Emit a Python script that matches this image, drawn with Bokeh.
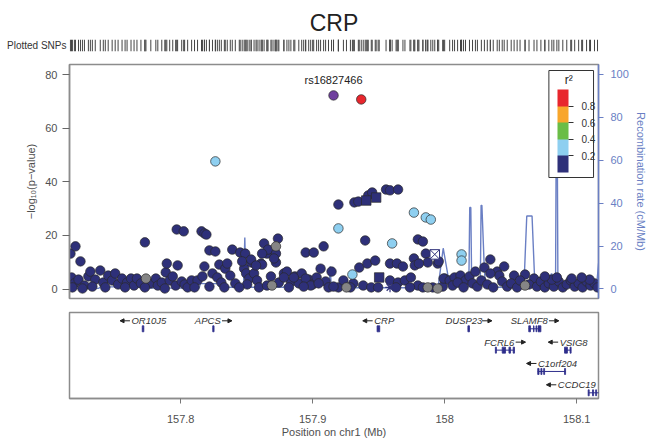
import math
from bokeh.plotting import figure
from bokeh.layouts import column
from bokeh.models import (Range1d, LinearAxis, FixedTicker, ColorBar, LinearColorMapper,
                          ColumnDataSource, Arrow, NormalHead, Label, BoxAnnotation)
from bokeh.core.properties import value
from bokeh.embed import file_html
from bokeh.resources import INLINE

# ---------------- data ----------------
title_text = "CRP"
index_name = "rs16827466"
index_pos = [157.9158]
index_logp = [72.2]

# r^2 < 0.2 (navy)
low_pos = [157.7165, 157.7203, 157.7241, 157.7173, 157.7195, 157.7226, 157.7271, 157.7301, 157.7316, 157.7353,
           157.7391, 157.7414, 157.7451, 157.7481, 157.7504, 157.7526, 157.7556, 157.7594, 157.7624, 157.7647,
           157.7669, 157.7699, 157.7729, 157.7774, 157.7812, 157.7827, 157.7857, 157.7887, 157.7895, 157.7917,
           157.7940, 157.7970, 157.7977, 157.7962, 157.8023, 157.8008, 157.7180, 157.7256, 157.7331, 157.7429,
           157.7579, 157.7729, 157.7880, 157.8030,
           157.8053, 157.8083, 157.8128, 157.8158, 157.8180, 157.8195, 157.8180, 157.8165, 157.8218, 157.8263,
           157.8293, 157.8241, 157.8278, 157.8308, 157.8338, 157.8353, 157.8376, 157.8391, 157.8414, 157.8451,
           157.8489, 157.8481, 157.8496, 157.8466, 157.8519, 157.8534, 157.8504, 157.8105, 157.8218, 157.8331,
           157.8444,
           157.8556, 157.8579, 157.8609, 157.8632, 157.8654, 157.8662, 157.8722, 157.8722, 157.8737, 157.8684,
           157.8744, 157.8782, 157.8805, 157.8835, 157.8865, 157.8895, 157.8917, 157.8947, 157.9008, 157.8970,
           157.9000, 157.9030, 157.9060, 157.9083, 157.9098, 157.8617, 157.8707, 157.8534, 157.8617, 157.8571,
           157.8782, 157.8857, 157.8947, 157.8985, 157.9045, 157.9195, 157.9120, 157.8594, 157.8654, 157.8820,
           157.8932, 157.9158,
           157.9195, 157.9316, 157.9346, 157.9421, 157.9451, 157.9556, 157.9586, 157.9647, 157.9398, 157.9797,
           157.9835, 157.9353, 157.9414, 157.9474, 157.9586, 157.9639, 157.9684, 157.9767, 157.9774, 157.9857,
           157.9872, 157.9947, 157.9805, 157.9586, 157.9647, 157.9699, 157.9744, 157.9797, 157.9910, 158.0000,
           157.9383, 157.9444, 157.9737, 157.9143, 157.9233, 157.9308, 157.9286, 157.9496, 157.9632, 157.9835,
           157.9985,
           157.9992, 157.9955, 158.0038, 158.0075, 158.0120, 158.0158, 158.0188, 158.0233, 158.0301, 158.0346,
           158.0398, 158.0451, 158.0414, 158.0346, 158.0526, 158.0609, 158.0677, 158.0060, 158.0098, 158.0143,
           158.0211, 158.0248, 158.0278, 158.0323, 158.0368, 158.0436, 158.0474, 158.0504, 158.0549, 158.0571,
           158.0639, 158.0699, 158.0729, 158.0759, 158.0789, 158.0827, 158.0865, 158.0895, 158.0925, 158.0955,
           158.0985, 158.1015, 158.1045, 158.1075, 158.1105, 158.1135, 158.1158, 158.0812, 158.0962, 158.1098,
           158.0759, 158.0850, 158.1038]
low_logp = [13.2, 15.9, 10.3, 4.3, 2.1, 3.5, 1.3, 4.7, 6.5, 3.5,
            6.9, 2.4, 5.0, 3.2, 5.8, 1.7, 3.9, 2.4, 3.9, 1.3,
            3.9, 2.1, 17.4, 2.1, 3.9, 1.3, 2.4, 6.2, 9.5, 3.2,
            4.7, 22.2, 8.8, 1.3, 21.5, 2.8, 0.6, 0.2, 0.9, 0.6,
            0.6, 0.6, 0.2, 1.7,
            0.6, 3.2, 3.2, 21.5, 20.7, 20.3, 8.4, 4.7, 14.4, 14.0,
            9.1, 5.8, 4.3, 2.4, 7.6, 9.5, 5.0, 14.7, 2.1, 13.6,
            13.2, 7.6, 5.8, 10.3, 3.9, 9.9, 1.7, 0.6, 0.9, 0.6,
            0.6,
            5.8, 3.2, 9.5, 17.0, 13.2, 14.7, 13.2, 9.9, 18.8, 4.7,
            2.4, 5.8, 6.5, 2.8, 4.7, 2.1, 5.8, 13.6, 13.6, 3.5,
            1.7, 4.3, 7.6, 15.9, 2.8, 13.2, 11.4, 11.0, 9.1, 8.8,
            4.3, 4.3, 3.9, 1.3, 2.1, 0.6, 0.6, 0.6, 1.3, 0.6,
            0.9, 0.9,
            31.5, 32.3, 32.6, 34.9, 36.0, 37.1, 36.8, 37.1, 18.1, 18.5,
            17.7, 8.0, 9.5, 10.6, 9.5, 9.5, 8.4, 11.4, 8.8, 13.2,
            9.9, 9.5, 9.5, 3.2, 2.4, 3.2, 4.3, 1.3, 0.6, 3.9,
            1.3, 0.6, 0.6, 6.5, 3.2, 2.1, 0.6, 0.6, 0.6, 0.6,
            0.9,
            3.9, 10.3, 3.2, 4.3, 5.0, 3.2, 4.7, 6.5, 8.0, 11.0,
            6.5, 8.4, 5.0, 5.8, 5.0, 5.4, 3.9, 1.3, 2.4, 0.6,
            2.1, 0.9, 3.2, 1.7, 0.6, 2.8, 0.9, 2.1, 0.6, 3.2,
            1.7, 0.9, 2.8, 0.6, 2.1, 0.9, 2.8, 0.6, 1.7, 3.2,
            0.9, 2.1, 0.6, 2.8, 1.3, 2.1, 0.6, 3.5, 3.9, 3.5,
            4.7, 4.3, 4.3]

# annotated SNPs (r^2 < 0.2)
square_pos = [157.9406, 157.9481, 157.9504]
square_logp = [33.0, 34.1, 4.3]
boxx_pos = [157.9925]
boxx_logp = [12.9]
star_pos = [157.9586]
star_logp = [0.6]

# 0.2 <= r^2 < 0.4 (light blue)
mid_pos = [157.8263, 157.9195, 157.9602, 157.9767, 157.9857, 157.9895, 157.9301, 158.0128, 158.0128]
mid_logp = [47.6, 22.6, 17.0, 28.5, 26.7, 25.9, 5.4, 12.9, 10.6]

# r^2 >= 0.8 (red)
high_pos = [157.9368]
high_logp = [70.7]

# no LD information (gray)
na_pos = [157.7737, 157.8722, 157.8692, 157.9256, 157.9872, 157.9947, 158.0609]
na_logp = [3.9, 15.9, 1.3, 0.6, 0.6, 0.2, 1.3]

# recombination rate (cM/Mb)
recomb_pos = [157.7158, 157.7380, 157.7391, 157.7690, 157.7700, 157.8140, 157.8150, 157.8300, 157.8310,
              157.8476, 157.8486, 157.8494, 157.8780, 157.8790, 157.9125, 157.9133, 157.9141, 157.9950,
              157.9989, 158.0040, 158.0183, 158.0190, 158.0198, 158.0205, 158.0270, 158.0276, 158.0282,
              158.0300, 158.0310, 158.0600, 158.0622, 158.0662, 158.0684, 158.0800, 158.0806, 158.0814,
              158.0820, 158.0840, 158.0845, 158.0853, 158.0858, 158.1150, 158.1166]
recomb_rate = [0.3, 0.3, 1.0, 1.0, 0.4, 0.4, 2.5, 2.5, 0.8,
               0.8, 24.0, 0.8, 0.8, 1.8, 1.8, 10.6, 0.6, 0.6,
               19.0, 1.0, 1.0, 38.0, 38.0, 1.0, 1.0, 39.0, 39.0,
               10.0, 0.8, 0.8, 34.0, 34.0, 0.8, 0.8, 7.0, 7.0,
               0.8, 0.8, 70.0, 70.0, 0.8, 0.8, 12.0]

# genes
gene_names = ["OR10J5", "APCS", "CRP", "DUSP23", "SLAMF8", "FCRL6", "VSIG8", "C1orf204", "CCDC19"]
gene_start = [157.7709, 157.8243, 157.9488, 158.0176, 158.0637, 158.0384, 158.0908, 158.0705, 158.1087]
gene_end = [157.7721, 157.8253, 157.9508, 158.0188, 158.0729, 158.0529, 158.0958, 158.0916, 158.1320]
gene_strand = ["-", "+", "-", "+", "+", "+", "-", "-", "-"]
gene_row = [1, 1, 1, 1, 1, 2, 2, 3, 4]
gene_exons = [
    [(157.7709, 157.7721)],
    [(157.8243, 157.8253)],
    [(157.9488, 157.9508)],
    [(158.0176, 158.0188)],
    [(158.0637, 158.0650), (158.0673, 158.0677), (158.0692, 158.0696), (158.0707, 158.0729)],
    [(158.0384, 158.0392), (158.0436, 158.0461), (158.0487, 158.0499), (158.0519, 158.0529)],
    [(158.0908, 158.0930), (158.0950, 158.0958)],
    [(158.0705, 158.0715), (158.0729, 158.0737), (158.0750, 158.0757), (158.0908, 158.0916)],
    [(158.1087, 158.1095), (158.1120, 158.1128), (158.1144, 158.1150)],
]

ld_ticks = [0.2, 0.4, 0.6, 0.8]
left_ticks = [0, 20, 40, 60, 80]
right_ticks = [0, 20, 40, 60, 80, 100]
pos_ticks = [157.8, 157.9, 158.0, 158.1]
pos_tick_labels = {157.8: "157.8", 157.9: "157.9", 158.0: "158", 158.1: "158.1"}

# ---------------- style ----------------
FONT = "Liberation Sans"
LD_PALETTE = ["#2E3079", "#8ECFF0", "#6ABD46", "#F8A62B", "#E8262D"]
INDEX_COLOR = "#70409E"
NA_COLOR = "#858585"
RECOMB_COLOR = "#6A7FC4"
FRAME_COLOR = "#8C8C8C"
TXT = "#505050"
GENE_COLOR = "#2E2E8C"

W = 649
X0, X1 = 157.71579, 158.11654
PX_PER_MB = 533 / (X1 - X0)
LEFT, RIGHT = 69, 47
xr = Range1d(X0, X1)


def px_to_x(px):
    return X0 + (px - LEFT) / PX_PER_MB


# ---------------- top panel: title + SNP rug ----------------
pA = figure(width=W, height=60, x_range=xr, y_range=Range1d(0, 1),
            output_backend="svg", toolbar_location=None, title=title_text,
            min_border_left=LEFT, min_border_right=RIGHT, min_border_top=39, min_border_bottom=9,
            x_axis_location=None, y_axis_location="left", outline_line_color=None)
pA.grid.visible = False
pA.title.align = "center"
pA.title.text_font = FONT
pA.title.text_font_size = "23px"
pA.title.text_font_style = "normal"
pA.title.text_color = "#222222"
pA.title.standoff = 8
yA = pA.yaxis[0]
yA.ticker = FixedTicker(ticks=[])
yA.axis_line_color = None
yA.major_tick_line_color = None
yA.minor_tick_line_color = None
yA.major_tick_out = 0
yA.major_label_standoff = 0
yA.axis_label = "Plotted SNPs"
yA.axis_label_orientation = "horizontal"
yA.axis_label_standoff = 3
yA.axis_label_text_font = FONT
yA.axis_label_text_font_style = "normal"
yA.axis_label_text_font_size = "10px"
yA.axis_label_text_color = "#333333"
all_pos = low_pos + square_pos + boxx_pos + star_pos + mid_pos + high_pos + na_pos + index_pos
pA.segment(x0=all_pos, y0=[0] * len(all_pos), x1=all_pos, y1=[1] * len(all_pos),
           line_color="#444444", line_width=1)

# ---------------- main association panel ----------------
pB = figure(width=W, height=245, x_range=xr, y_range=Range1d(-3.54, 83.73),
            output_backend="svg", toolbar_location=None,
            min_border_left=LEFT, min_border_right=RIGHT, min_border_top=4, min_border_bottom=7,
            x_axis_location=None, y_axis_location="left")
pB.grid.visible = False
pB.outline_line_color = FRAME_COLOR
pB.outline_line_width = 1.5

ya = pB.yaxis[0]
ya.ticker = FixedTicker(ticks=left_ticks)
ya.axis_label = "\u2212log\u2081\u2080(p\u2212value)"
ya.axis_label_text_font = FONT
ya.axis_label_text_font_style = "normal"
ya.axis_label_text_font_size = "11px"
ya.axis_label_text_color = TXT
ya.axis_label_standoff = 5
ya.major_label_text_font = FONT
ya.major_label_text_font_size = "11px"
ya.major_label_text_color = TXT
ya.major_label_standoff = 5
ya.major_tick_out = 7
ya.major_tick_in = 0
ya.minor_tick_line_color = None
ya.major_tick_line_color = "#666666"
ya.axis_line_color = FRAME_COLOR
ya.axis_line_width = 1.5

pB.extra_y_ranges = {"recomb": Range1d(-4.43, 104.66)}
ra = LinearAxis(y_range_name="recomb", ticker=FixedTicker(ticks=right_ticks),
                axis_label="Recombination rate (cM/Mb)")
ra.axis_label_text_font = FONT
ra.axis_label_text_font_style = "normal"
ra.axis_label_text_font_size = "11px"
ra.axis_label_text_color = RECOMB_COLOR
ra.axis_label_standoff = 3
ra.major_label_text_font = FONT
ra.major_label_text_font_size = "11px"
ra.major_label_text_color = RECOMB_COLOR
ra.major_label_standoff = 7
ra.major_tick_out = 5
ra.major_tick_in = 0
ra.minor_tick_line_color = None
ra.major_tick_line_color = RECOMB_COLOR
ra.axis_line_color = RECOMB_COLOR
ra.axis_line_width = 1.5
pB.add_layout(ra, "right")

pB.line(recomb_pos, recomb_rate, y_range_name="recomb", line_color=RECOMB_COLOR, line_width=1.4)

PT = 9.5
OUT = "#2a2a2a"
pB.scatter(low_pos, low_logp, marker="circle", size=PT, fill_color=LD_PALETTE[0], line_color=OUT, line_width=0.7)
pB.scatter(na_pos, na_logp, marker="circle", size=PT, fill_color=NA_COLOR, line_color=OUT, line_width=0.7)
pB.scatter(square_pos, square_logp, marker="square", size=PT, fill_color=LD_PALETTE[0], line_color=OUT, line_width=0.7)
pB.scatter(boxx_pos, boxx_logp, marker="square_x", size=PT, fill_color="white", line_color=LD_PALETTE[0], line_width=1)
pB.scatter(star_pos, star_logp, marker="asterisk", size=PT, line_color=LD_PALETTE[0], line_width=1.2)
pB.scatter(mid_pos, mid_logp, marker="circle", size=PT, fill_color=LD_PALETTE[1], line_color=OUT, line_width=0.7)
pB.scatter(high_pos, high_logp, marker="circle", size=PT, fill_color=LD_PALETTE[4], line_color=OUT, line_width=0.7)
pB.scatter(index_pos, index_logp, marker="circle", size=PT, fill_color=INDEX_COLOR, line_color=OUT, line_width=0.7)

pB.add_layout(Label(x=index_pos[0], y=index_logp[0], text=index_name, y_offset=15,
                    text_align="center", text_baseline="middle", text_font=FONT,
                    text_font_size="11px", text_color="#222222"))


def py_to_y(py):
    return (288.5 - py) / 2.68125


# r^2 legend: framed box, colour bar, title
pB.add_layout(BoxAnnotation(left=px_to_x(552), right=px_to_x(597), top=py_to_y(70), bottom=py_to_y(177),
                            fill_color="white", fill_alpha=1.0, line_color="#333333", line_width=1,
                            line_alpha=1.0))
mapper = LinearColorMapper(palette=LD_PALETTE, low=0, high=1)
cb = ColorBar(color_mapper=mapper, ticker=FixedTicker(ticks=ld_ticks), orientation="vertical",
              width=11, height=83, location=(483, 121), padding=5,
              major_label_text_font=FONT, major_label_text_font_size="10px",
              major_label_text_color="#333333", label_standoff=8,
              major_tick_in=0, major_tick_out=5, major_tick_line_color="#333333",
              minor_tick_line_color=None, bar_line_color=None,
              border_line_color=None, background_fill_color=None)
pB.add_layout(cb)
pB.add_layout(Label(x=px_to_x(572), y=py_to_y(79), text="r\u00b2", text_font=FONT,
                    text_font_size="12px", text_align="center", text_baseline="middle",
                    text_color="#222222"))

# ---------------- gene panel ----------------
ROW_PX = 21.33
YC0 = -4 - 5.7 / ROW_PX
YC1 = -1 + 16.3 / ROW_PX
pC = figure(width=W, height=141, x_range=xr, y_range=Range1d(YC0, YC1),
            output_backend="svg", toolbar_location=None,
            min_border_left=LEFT, min_border_right=RIGHT, min_border_top=7, min_border_bottom=48,
            y_axis_location=None, x_axis_location="below")
pC.grid.visible = False
pC.outline_line_color = FRAME_COLOR
pC.outline_line_width = 1.5
xa = pC.xaxis[0]
xa.ticker = FixedTicker(ticks=pos_ticks)
xa.major_label_overrides = pos_tick_labels
xa.axis_label = "Position on chr1 (Mb)"
xa.axis_label_text_font = FONT
xa.axis_label_text_font_style = "normal"
xa.axis_label_text_font_size = "11px"
xa.axis_label_text_color = TXT
xa.axis_label_standoff = 0
xa.major_label_text_font = FONT
xa.major_label_text_font_size = "11px"
xa.major_label_text_color = TXT
xa.major_label_standoff = 11
xa.major_tick_out = 5
xa.major_tick_in = 0
xa.minor_tick_line_color = None
xa.major_tick_line_color = "#777777"
xa.axis_line_color = FRAME_COLOR
xa.axis_line_width = 1.5

# gene bodies and exons
EX_H = 3.0 / ROW_PX
pC.segment(x0=gene_start, y0=[-r for r in gene_row], x1=gene_end, y1=[-r for r in gene_row],
           line_color=GENE_COLOR, line_width=1)
ex_l, ex_r, ex_b, ex_t = [], [], [], []
for exons, r in zip(gene_exons, gene_row):
    for a, b in exons:
        ex_l.append(a); ex_r.append(b); ex_b.append(-r - EX_H); ex_t.append(-r + EX_H)
pC.quad(left=ex_l, right=ex_r, bottom=ex_b, top=ex_t, fill_color=GENE_COLOR, line_color=GENE_COLOR,
        line_width=0.8)

# labels with strand arrows, centred on the gene, kept inside the panel
CHAR_W = {"A": .667, "B": .667, "C": .722, "D": .722, "E": .667, "F": .611, "G": .778, "H": .722,
          "I": .278, "J": .5, "K": .667, "L": .556, "M": .833, "N": .722, "O": .778, "P": .667,
          "R": .722, "S": .667, "V": .667, "o": .556, "r": .333, "f": .278}
GFS = 9.5
ARROW_LEN, GAP = 10.0, 1.5
lab_x, lab_y, lab_t = [], [], []
ar = dict(x_start=[], x_end=[], y_start=[], y_end=[])
for name, s, e, strand, r in zip(gene_names, gene_start, gene_end, gene_strand, gene_row):
    tw = sum(CHAR_W.get(c, .556) for c in name) * GFS
    wtot = tw + GAP + ARROW_LEN
    cpx = LEFT + ((s + e) / 2 - X0) * PX_PER_MB
    left = cpx - wtot / 2
    left = min(max(left, LEFT + 2), LEFT + 533 - 3 - wtot)
    ly = -r + 8.0 / ROW_PX
    if strand == "+":
        tx = left
        a0, a1 = left + tw + GAP, left + wtot
    else:
        tx = left + ARROW_LEN + GAP
        a0, a1 = left + ARROW_LEN, left
    lab_x.append(px_to_x(tx))
    lab_y.append(ly)
    lab_t.append(name)
    ar["x_start"].append(px_to_x(a0))
    ar["x_end"].append(px_to_x(a1))
    ar["y_start"].append(ly)
    ar["y_end"].append(ly)

pC.text(x=lab_x, y=lab_y, text=lab_t, text_font=value(FONT), text_font_style="italic",
        text_font_size="9.5px", text_align="left", text_baseline="middle", text_color="#333333")
pC.add_layout(Arrow(end=NormalHead(size=4, fill_color="#222222", line_color="#222222"),
                    source=ColumnDataSource(ar), x_start="x_start", y_start="y_start",
                    x_end="x_end", y_end="y_end", line_color="#222222", line_width=1))

layout = column(pA, pB, pC)
open("out.html", "w").write(file_html(layout, INLINE))
